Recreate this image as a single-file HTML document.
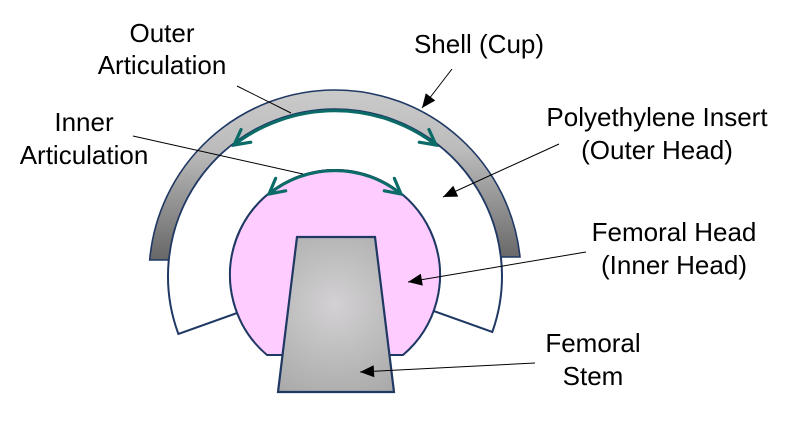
<!DOCTYPE html>
<html>
<head>
<meta charset="utf-8">
<style>
  html, body { margin: 0; padding: 0; background: #ffffff; }
  body { width: 800px; height: 422px; overflow: hidden; }
  svg { display: block; }
  text { font-family: "Liberation Sans", Arial, sans-serif; font-size: 26px; fill: #000; }
</style>
</head>
<body>
<svg width="800" height="422" viewBox="0 0 800 422" xmlns="http://www.w3.org/2000/svg">
  <defs>
    <linearGradient id="shellGrad" x1="0" y1="90" x2="0" y2="260" gradientUnits="userSpaceOnUse">
      <stop offset="0" stop-color="#cacaca"/>
      <stop offset="0.35" stop-color="#bcbcbc"/>
      <stop offset="1" stop-color="#676767"/>
    </linearGradient>
    <radialGradient id="stemGrad" cx="335" cy="305" r="110" gradientUnits="userSpaceOnUse">
      <stop offset="0" stop-color="#d3d1d3"/>
      <stop offset="1" stop-color="#a6a6a6"/>
    </radialGradient>
    <marker id="chev" markerUnits="userSpaceOnUse" markerWidth="30" markerHeight="30" refX="0" refY="0" viewBox="-20 -15 30 30" orient="auto-start-reverse" overflow="visible">
      <path d="M -15 -8 L 0 0 L -15 8" fill="none" stroke="#0b6b67" stroke-width="3.2" stroke-linecap="round" stroke-linejoin="miter"/>
    </marker>
    <marker id="tri" markerUnits="userSpaceOnUse" markerWidth="20" markerHeight="20" refX="0" refY="0" viewBox="-15 -8 20 16" orient="auto" overflow="visible">
      <path d="M 0 0 L -14 -6 L -14 6 Z" fill="#000"/>
    </marker>
  </defs>

  <!-- Polyethylene insert -->
  <path d="M 178.4 334 A 167 167 0 0 1 335 109 A 167 167 0 0 1 492.3 332 L 433.6 311 A 105 105 0 0 0 335 170 A 105 105 0 0 0 237.1 313 Z"
        fill="#ffffff" stroke="#1f3864" stroke-width="2"/>

  <!-- Shell -->
  <path d="M 149.7 260 A 186 186 0 0 1 335 90 A 186 186 0 0 1 520 257 L 500.9 257 A 167 167 0 0 0 335 109 A 167 167 0 0 0 168.8 260 Z"
        fill="url(#shellGrad)" stroke="#1f3864" stroke-width="1.6"/>

  <!-- Femoral head -->
  <path d="M 267 355 A 105 105 0 0 1 335 170 A 105 105 0 0 1 403 355 Z" fill="#ffccff" stroke="#1f3864" stroke-width="2"/>

  <!-- Femoral stem -->
  <path d="M 297 237 L 375 237 L 394 392 L 278 392 Z" fill="url(#stemGrad)" stroke="#1f3864" stroke-width="2.2"/>

  <!-- Articulation arcs -->
  <path d="M 234 145 A 166 166 0 0 1 436 145" fill="none" stroke="#0b6b67" stroke-width="3"
        marker-start="url(#chev)" marker-end="url(#chev)"/>
  <path d="M 269 194 A 105 105 0 0 1 401 194" fill="none" stroke="#0b6b67" stroke-width="3"
        marker-start="url(#chev)" marker-end="url(#chev)"/>

  <!-- Leader lines -->
  <line x1="237" y1="86" x2="291" y2="113" stroke="#000" stroke-width="1"/>
  <line x1="133" y1="136" x2="303" y2="174" stroke="#000" stroke-width="1"/>
  <line x1="452" y1="69" x2="422" y2="108" stroke="#000" stroke-width="1" marker-end="url(#tri)"/>
  <line x1="559" y1="144" x2="443" y2="197" stroke="#000" stroke-width="1" marker-end="url(#tri)"/>
  <line x1="586" y1="252" x2="408" y2="282" stroke="#000" stroke-width="1" marker-end="url(#tri)"/>
  <line x1="535" y1="363" x2="360" y2="372" stroke="#000" stroke-width="1" marker-end="url(#tri)"/>

  <!-- Labels -->
  <text x="162" y="42" text-anchor="middle">Outer</text>
  <text x="162" y="74" text-anchor="middle">Articulation</text>
  <text x="84" y="131" text-anchor="middle">Inner</text>
  <text x="84" y="164" text-anchor="middle">Articulation</text>
  <text x="479" y="53" text-anchor="middle">Shell (Cup)</text>
  <text x="657" y="126" text-anchor="middle">Polyethylene Insert</text>
  <text x="657" y="159" text-anchor="middle">(Outer Head)</text>
  <text x="674" y="241" text-anchor="middle">Femoral Head</text>
  <text x="674" y="274" text-anchor="middle">(Inner Head)</text>
  <text x="593" y="352" text-anchor="middle">Femoral</text>
  <text x="593" y="385" text-anchor="middle">Stem</text>
</svg>
</body>
</html>
